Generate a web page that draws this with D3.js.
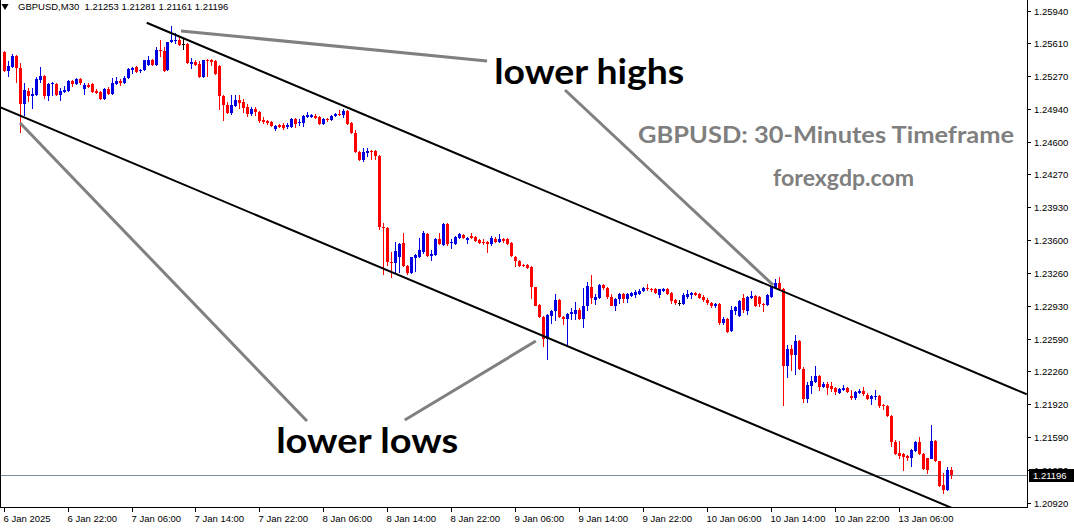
<!DOCTYPE html>
<html><head><meta charset="utf-8">
<script src="https://cdn.jsdelivr.net/npm/d3@7"></script>
<style>body{margin:0;background:#fff;overflow:hidden} svg{display:block}</style>
</head><body>
<svg id="c" width="1074" height="528"></svg>
<script>
// ---- data (GBPUSD M30, bar 0 = 6 Jan 2025 14:00) ----
const openP = [1.2552,1.2532,1.2536,1.2548,1.2535,1.2499,1.2512,1.2507,1.2508,1.2523,1.2527,1.2507,1.2519,1.2519,1.2508,1.2511,1.2512,1.2522,1.2519,1.2524,
1.2514,1.2518,1.2519,1.2512,1.2511,1.2504,1.2514,1.2509,1.2519,1.2522,1.2520,1.2525,1.2533,1.2536,1.2532,1.2533,1.2538,1.2543,1.2538,1.2554,
1.2553,1.2533,1.2562,1.2563,1.2564,1.2560,1.2560,1.2539,1.2541,1.2539,1.2526,1.2543,1.2543,1.2542,1.2537,1.2507,1.2498,1.2489,1.2497,1.2503,
1.2501,1.2496,1.2488,1.2494,1.2490,1.2482,1.2481,1.2480,1.2473,1.2477,1.2477,1.2475,1.2475,1.2483,1.2479,1.2479,1.2485,1.2485,1.2486,1.2485,
1.2478,1.2483,1.2482,1.2486,1.2488,1.2487,1.2491,1.2479,1.2469,1.2450,1.2441,1.2449,1.2451,1.2451,1.2446,1.2373,1.2372,1.2337,1.2336,1.2343,
1.2357,1.2333,1.2326,1.2341,1.2343,1.2348,1.2366,1.2344,1.2345,1.2361,1.2355,1.2376,1.2357,1.2356,1.2362,1.2365,1.2360,1.2364,1.2363,1.2360,
1.2358,1.2358,1.2356,1.2361,1.2358,1.2361,1.2361,1.2357,1.2343,1.2338,1.2334,1.2334,1.2332,1.2312,1.2294,1.2281,1.2259,1.2282,1.2287,1.2299,
1.2281,1.2279,1.2284,1.2284,1.2288,1.2279,1.2292,1.2312,1.2299,1.2301,1.2314,1.2311,1.2302,1.2293,1.2300,1.2305,1.2300,1.2303,1.2304,1.2305,
1.2308,1.2311,1.2310,1.2310,1.2304,1.2308,1.2310,1.2306,1.2299,1.2296,1.2295,1.2302,1.2304,1.2306,1.2305,1.2302,1.2299,1.2296,1.2292,1.2295,
1.2275,1.2279,1.2267,1.2287,1.2282,1.2301,1.2287,1.2301,1.2303,1.2302,1.2295,1.2294,1.2302,1.2311,1.2316,1.2310,1.2231,1.2249,1.2242,1.2257,
1.2228,1.2198,1.2211,1.2215,1.2221,1.2210,1.2213,1.2211,1.2209,1.2204,1.2207,1.2209,1.2201,1.2199,1.2204,1.2206,1.2202,1.2198,1.2200,1.2201,
1.2191,1.2190,1.2180,1.2154,1.2142,1.2141,1.2139,1.2137,1.2145,1.2154,1.2141,1.2137,1.2136,1.2155,1.2134,1.2110,1.2105,1.21253];
const highP = [1.2553,1.2542,1.2550,1.2549,1.2540,1.2520,1.2515,1.2515,1.2526,1.2536,1.2528,1.2520,1.2521,1.2520,1.2515,1.2517,1.2523,1.2523,1.2525,1.2525,
1.2520,1.2520,1.2520,1.2514,1.2512,1.2515,1.2516,1.2525,1.2526,1.2524,1.2527,1.2535,1.2536,1.2537,1.2534,1.2544,1.2548,1.2545,1.2557,1.2564,
1.2557,1.2562,1.2578,1.2571,1.2568,1.2566,1.2561,1.2546,1.2544,1.2542,1.2544,1.2545,1.2545,1.2544,1.2538,1.2508,1.2501,1.2508,1.2508,1.2508,
1.2504,1.2499,1.2496,1.2496,1.2491,1.2485,1.2482,1.2481,1.2477,1.2478,1.2479,1.2479,1.2484,1.2484,1.2483,1.2487,1.2490,1.2488,1.2488,1.2486,
1.2484,1.2484,1.2487,1.2489,1.2492,1.2494,1.2492,1.2480,1.2472,1.2451,1.2454,1.2454,1.2452,1.2452,1.2447,1.2377,1.2373,1.2348,1.2358,1.2357,
1.2367,1.2334,1.2343,1.2346,1.2362,1.2369,1.2367,1.2350,1.2362,1.2367,1.2377,1.2377,1.2361,1.2364,1.2367,1.2366,1.2363,1.2367,1.2364,1.2361,
1.2361,1.2359,1.2364,1.2363,1.2366,1.2362,1.2362,1.2358,1.2344,1.2339,1.2335,1.2335,1.2333,1.2312,1.2295,1.2282,1.2284,1.2288,1.2305,1.2300,
1.2282,1.2285,1.2290,1.2297,1.2290,1.2311,1.2317,1.2324,1.2305,1.2315,1.2315,1.2312,1.2305,1.2301,1.2306,1.2306,1.2306,1.2307,1.2309,1.2310,
1.2312,1.2315,1.2311,1.2311,1.2310,1.2311,1.2311,1.2307,1.2300,1.2299,1.2306,1.2309,1.2307,1.2307,1.2306,1.2304,1.2301,1.2297,1.2296,1.2296,
1.2281,1.2280,1.2293,1.2292,1.2299,1.2305,1.2303,1.2308,1.2304,1.2303,1.2296,1.2305,1.2313,1.2320,1.2322,1.2311,1.2253,1.2253,1.2263,1.2258,
1.2230,1.2215,1.2221,1.2231,1.2222,1.2215,1.2215,1.2215,1.2210,1.2209,1.2212,1.2210,1.2207,1.2206,1.2208,1.2210,1.2204,1.2202,1.2207,1.2202,
1.2192,1.2191,1.2181,1.2156,1.2155,1.2142,1.2140,1.2147,1.2155,1.2159,1.2143,1.2137,1.2171,1.2156,1.2134,1.2122,1.2128,1.21281];
const lowP = [1.2531,1.2526,1.2535,1.2520,1.2469,1.2486,1.2501,1.2494,1.2507,1.2520,1.2504,1.2502,1.2507,1.2507,1.2502,1.2510,1.2511,1.2516,1.2518,1.2518,
1.2508,1.2515,1.2510,1.2509,1.2503,1.2503,1.2508,1.2508,1.2518,1.2517,1.2519,1.2524,1.2529,1.2530,1.2530,1.2532,1.2537,1.2537,1.2537,1.2547,
1.2531,1.2532,1.2561,1.2560,1.2558,1.2554,1.2539,1.2534,1.2537,1.2525,1.2525,1.2526,1.2537,1.2528,1.2492,1.2481,1.2488,1.2487,1.2496,1.2494,
1.2489,1.2485,1.2486,1.2486,1.2479,1.2478,1.2477,1.2475,1.2471,1.2474,1.2472,1.2473,1.2474,1.2474,1.2476,1.2475,1.2484,1.2484,1.2483,1.2477,
1.2477,1.2480,1.2481,1.2485,1.2486,1.2484,1.2477,1.2468,1.2449,1.2440,1.2439,1.2445,1.2441,1.2441,1.2370,1.2324,1.2333,1.2321,1.2326,1.2326,
1.2332,1.2324,1.2325,1.2327,1.2341,1.2346,1.2343,1.2338,1.2344,1.2355,1.2354,1.2354,1.2351,1.2355,1.2361,1.2361,1.2356,1.2361,1.2358,1.2356,
1.2355,1.2347,1.2354,1.2357,1.2357,1.2357,1.2355,1.2343,1.2332,1.2332,1.2332,1.2330,1.2300,1.2292,1.2280,1.2251,1.2237,1.2274,1.2277,1.2280,
1.2273,1.2252,1.2278,1.2278,1.2278,1.2270,1.2287,1.2295,1.2294,1.2300,1.2309,1.2300,1.2292,1.2287,1.2295,1.2296,1.2296,1.2302,1.2301,1.2304,
1.2307,1.2308,1.2307,1.2305,1.2301,1.2307,1.2304,1.2295,1.2294,1.2293,1.2294,1.2300,1.2300,1.2303,1.2300,1.2297,1.2294,1.2290,1.2290,1.2273,
1.2273,1.2265,1.2266,1.2283,1.2281,1.2285,1.2283,1.2300,1.2291,1.2291,1.2286,1.2293,1.2301,1.2310,1.2309,1.2190,1.2219,1.2226,1.2222,1.2227,
1.2194,1.2194,1.2203,1.2214,1.2206,1.2209,1.2202,1.2205,1.2202,1.2203,1.2206,1.2204,1.2197,1.2197,1.2203,1.2201,1.2197,1.2191,1.2197,1.2188,
1.2186,1.2179,1.2149,1.2140,1.2136,1.2124,1.2134,1.2128,1.2144,1.2140,1.2125,1.2121,1.2136,1.2133,1.2108,1.2101,1.2104,1.21161];
const closeP = [1.2532,1.2537,1.2548,1.2535,1.2499,1.2513,1.2507,1.2509,1.2524,1.2527,1.2507,1.2519,1.2520,1.2508,1.2512,1.2513,1.2522,1.2519,1.2524,1.2520,
1.2518,1.2516,1.2511,1.2510,1.2504,1.2514,1.2509,1.2520,1.2522,1.2520,1.2525,1.2534,1.2535,1.2531,1.2533,1.2543,1.2543,1.2538,1.2554,1.2553,
1.2532,1.2562,1.2564,1.2564,1.2559,1.2560,1.2540,1.2541,1.2538,1.2526,1.2543,1.2542,1.2541,1.2529,1.2507,1.2498,1.2489,1.2498,1.2503,1.2500,
1.2495,1.2488,1.2494,1.2490,1.2481,1.2480,1.2479,1.2476,1.2476,1.2475,1.2474,1.2477,1.2483,1.2478,1.2480,1.2486,1.2487,1.2487,1.2484,1.2478,
1.2483,1.2482,1.2486,1.2488,1.2487,1.2491,1.2478,1.2469,1.2450,1.2441,1.2450,1.2451,1.2450,1.2446,1.2373,1.2372,1.2337,1.2336,1.2349,1.2356,
1.2333,1.2326,1.2343,1.2345,1.2350,1.2367,1.2344,1.2346,1.2361,1.2356,1.2376,1.2356,1.2358,1.2363,1.2366,1.2362,1.2362,1.2362,1.2359,1.2357,
1.2357,1.2356,1.2362,1.2358,1.2361,1.2359,1.2356,1.2344,1.2338,1.2333,1.2333,1.2331,1.2312,1.2293,1.2281,1.2259,1.2283,1.2287,1.2299,1.2281,
1.2279,1.2284,1.2286,1.2288,1.2279,1.2292,1.2313,1.2301,1.2302,1.2314,1.2311,1.2302,1.2293,1.2300,1.2305,1.2300,1.2305,1.2306,1.2307,1.2308,
1.2311,1.2310,1.2309,1.2306,1.2310,1.2310,1.2305,1.2298,1.2296,1.2296,1.2304,1.2305,1.2306,1.2304,1.2301,1.2299,1.2296,1.2293,1.2295,1.2275,
1.2279,1.2266,1.2288,1.2291,1.2298,1.2288,1.2302,1.2303,1.2292,1.2295,1.2294,1.2304,1.2312,1.2316,1.2310,1.2231,1.2249,1.2243,1.2257,1.2228,
1.2198,1.2212,1.2216,1.2221,1.2210,1.2213,1.2209,1.2208,1.2205,1.2208,1.2209,1.2205,1.2199,1.2205,1.2206,1.2203,1.2198,1.2201,1.2201,1.2190,
1.2190,1.2180,1.2154,1.2141,1.2139,1.2138,1.2137,1.2146,1.2154,1.2141,1.2126,1.2125,1.2155,1.2134,1.2109,1.2105,1.2125,1.21196];

const timeLabels = ["6 Jan 2025","6 Jan 22:00","7 Jan 06:00","7 Jan 14:00","7 Jan 22:00","8 Jan 06:00","8 Jan 14:00","8 Jan 22:00",
  "9 Jan 06:00","9 Jan 14:00","9 Jan 22:00","10 Jan 06:00","10 Jan 14:00","10 Jan 22:00","13 Jan 06:00"];
const timeLabelBars = [0,16,32,48,64,80,96,112,128,144,160,176,192,208,224];
const priceTicks = [1.25940,1.25610,1.25270,1.24940,1.24600,1.24270,1.23930,1.23600,1.23260,1.22930,1.22590,1.22260,1.21920,1.21590,1.21250,1.20920];
const lastPrice = 1.21196;
const symbolTitle = "GBPUSD,M30  1.21253 1.21281 1.21161 1.21196";

// drawn objects, anchored in (bar index, price)
const upperChannel = [[35.8, 1.25815], [256.1, 1.22024]];
const lowerChannel = [[-0.93, 1.24953], [237.4, 1.20863]];
const pointerLines = [
  [[44.4, 1.25731], [121.0, 1.25425]],
  [[140.5, 1.25129], [192.6, 1.23139]],
  [[4.1, 1.24792], [75.9, 1.21751]],
  [[100.4, 1.21761], [133.2, 1.22567]]
];
const notes = [
  {text:"lower highs", bar:122.8, price:1.25190, size:34, len:190, color:"#000"},
  {text:"lower lows", bar:68.2, price:1.21425, size:34, len:182, color:"#000"},
  {text:"GBPUSD: 30-Minutes Timeframe", bar:158.8, price:1.24588, size:22, len:376, color:"#7f7f7f"},
  {text:"forexgdp.com", bar:192.6, price:1.24149, size:22, len:141, color:"#7f7f7f"}
];

// ---- layout ----
const W = 1074, H = 528;
const plot = {left:0, right:1027, top:0, bottom:507};
const svg = d3.select("#c");
const n = openP.length;
const x = d3.scaleLinear().domain([0, n - 1]).range([3.7, 3.7 + 3.995 * (n - 1)]);
const y = d3.scaleLinear().domain([1.20920, 1.25940]).range([502.5, 10.5]);

svg.append("rect").attr("width", W).attr("height", H).attr("fill", "#fff");
const defs = svg.append("defs");
defs.append("clipPath").attr("id", "clip")
  .append("rect").attr("x", plot.left).attr("y", plot.top)
  .attr("width", plot.right - plot.left).attr("height", plot.bottom - plot.top);

const g = svg.append("g").attr("clip-path", "url(#clip)");

// current price line
g.append("line").attr("x1", 0).attr("x2", plot.right)
  .attr("y1", Math.round(y(lastPrice)) + 0.5).attr("y2", Math.round(y(lastPrice)) + 0.5)
  .attr("stroke", "#7f8c98").attr("stroke-width", 1);

// candles
const bars = d3.range(n).map(i => ({i, o: openP[i], h: highP[i], l: lowP[i], c: closeP[i]}));
const col = d => d.c > d.o ? "#0000e0" : (d.c < d.o ? "#ff0000" : "#000000");
const cg = g.append("g").attr("shape-rendering", "crispEdges");
cg.selectAll("line.w").data(bars).join("line").attr("class", "w")
  .attr("x1", d => Math.round(x(d.i)) + 0.5).attr("x2", d => Math.round(x(d.i)) + 0.5)
  .attr("y1", d => y(d.h)).attr("y2", d => y(d.l))
  .attr("stroke", col).attr("stroke-width", 1);
cg.selectAll("rect.b").data(bars).join("rect").attr("class", "b")
  .attr("x", d => Math.round(x(d.i)) - 1)
  .attr("width", 3)
  .attr("y", d => Math.round(y(Math.max(d.o, d.c))))
  .attr("height", d => Math.max(1, Math.round(y(Math.min(d.o, d.c))) - Math.round(y(Math.max(d.o, d.c)))))
  .attr("fill", col);

// channel lines
const lineGen = d3.line().x(d => x(d[0])).y(d => y(d[1]));
[upperChannel, lowerChannel].forEach(l => {
  g.append("path").attr("d", lineGen(l)).attr("stroke", "#000").attr("stroke-width", 2).attr("fill", "none");
});
// pointer lines
pointerLines.forEach(l => {
  g.append("path").attr("d", lineGen(l)).attr("stroke", "#808080").attr("stroke-width", 3).attr("fill", "none");
});

// notes
notes.forEach(t => {
  g.append("text").attr("x", x(t.bar)).attr("y", y(t.price))
    .attr("font-family", "Lato, 'Open Sans', sans-serif").attr("font-weight", 700)
    .attr("font-size", t.size).attr("fill", t.color)
    .attr("textLength", t.len).attr("lengthAdjust", "spacingAndGlyphs")
    .text(t.text);
});

// frame
svg.append("rect").attr("x", 0.5).attr("y", -0.5).attr("width", plot.right - 0.5).attr("height", plot.bottom + 1)
  .attr("fill", "none").attr("stroke", "#000").attr("stroke-width", 1).attr("shape-rendering", "crispEdges");

// title
svg.append("path").attr("d", d3.symbol().type(d3.symbolTriangle).size(22)())
  .attr("transform", "translate(5,6) rotate(180)").attr("fill", "#000");
svg.append("text").attr("x", 18).attr("y", 10).attr("font-family", "'Liberation Sans', Arial, sans-serif")
  .attr("font-size", 9.5).attr("fill", "#000").attr("xml:space", "preserve").style("white-space", "pre").text(symbolTitle);

// price axis
const ly = Math.round(y(lastPrice));
defs.append("clipPath").attr("id", "axclip").append("rect")
  .attr("x", plot.right).attr("y", 0).attr("width", W - plot.right).attr("height", ly - 6);
const ax = svg.append("g").attr("font-family", "'Liberation Sans', Arial, sans-serif").attr("font-size", 9.5);
priceTicks.forEach(p => {
  const yy = Math.round(y(p)) + 0.5;
  const hidden = Math.abs(y(p) - y(lastPrice)) < 12;
  ax.append("line").attr("x1", plot.right).attr("x2", plot.right + 4).attr("y1", yy).attr("y2", yy)
    .attr("stroke", "#000").attr("shape-rendering", "crispEdges");
  const t = ax.append("text").attr("x", plot.right + 7).attr("y", yy).attr("dy", "0.35em").attr("fill", "#000")
    .text(d3.format(".5f")(p));
  if (hidden) t.attr("clip-path", "url(#axclip)");
});
// last price label
ax.append("rect").attr("x", plot.right + 2).attr("y", ly - 6).attr("width", W - plot.right - 2).attr("height", 13).attr("fill", "#000");
ax.append("text").attr("x", plot.right + 6).attr("y", ly + 0.5).attr("dy", "0.35em").attr("fill", "#fff")
  .text(d3.format(".5f")(lastPrice));

// time axis
const tx = svg.append("g").attr("font-family", "'Liberation Sans', Arial, sans-serif").attr("font-size", 9.5);
timeLabelBars.forEach((b, k) => {
  const xx = Math.round(x(b)) + 0.5;
  tx.append("line").attr("x1", xx).attr("x2", xx).attr("y1", plot.bottom).attr("y2", plot.bottom + 5)
    .attr("stroke", "#000").attr("shape-rendering", "crispEdges");
  tx.append("text").attr("x", xx - 1).attr("y", 522).attr("fill", "#000").text(timeLabels[k]);
});
</script>
</body></html>
